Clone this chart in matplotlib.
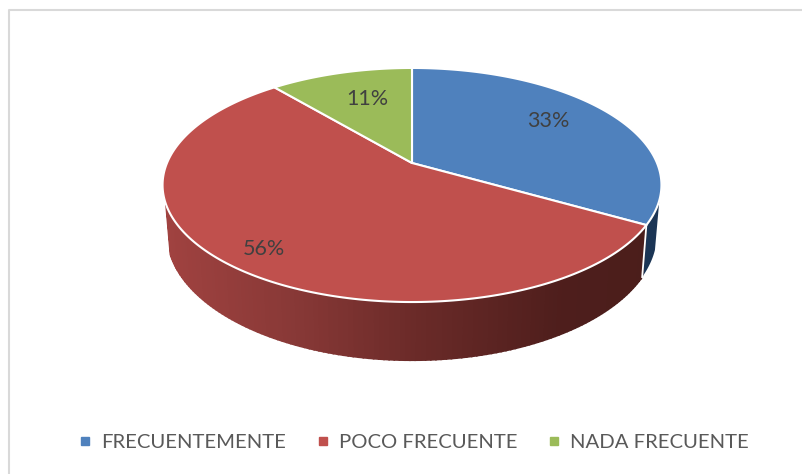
import numpy as np
import matplotlib
matplotlib.use('Agg')
import matplotlib.pyplot as plt
from matplotlib.lines import Line2D

# Datos del grafico
categories = ['FRECUENTEMENTE', 'POCO FRECUENTE', 'NADA FRECUENTE']
values = [33.3, 55.6, 11.1]
colors = ['#4F81BD', '#C0504D', '#9BBB59']

W, H = 803, 474
text_color = '#404040'
plt.rcParams['font.family'] = ['Lato', 'DejaVu Sans']


# Circulo del pastel en perspectiva: angulo en grados, 0 arriba y sentido horario
def project(t, top=True):
    t = np.radians(t)
    u, v = np.sin(t), np.cos(t)
    d = 1 + 0.188 * v
    if top:
        return 412 + 245 * u / d, 163 - 112.9 * v / d
    return 412 + 240.6 * u / d, 210 - 122 * v / d


def slice_poly(a, b):
    t = np.linspace(a, b, 200)
    x, y = project(t)
    return np.r_[412, x], np.r_[163, y]


fig = plt.figure(figsize=(W / 100, H / 100), dpi=100)
ax = fig.add_axes([0, 0, 1, 1])
ax.set_xlim(0, W)
ax.set_ylim(H, 0)
ax.axis('off')

# Marco: solo arriba e izquierda
ax.plot([9.5, 9.5, W], [H, 9.5, 9.5], color='#D9D9D9', lw=1.5)

edges = np.r_[0, np.cumsum(values)] / np.sum(values) * 360

# Pared lateral azul
t = np.linspace(108, edges[1], 40)
xt, yt = project(t)
xb, yb = project(t, top=False)
ax.fill(np.r_[xt, xb[::-1]], np.r_[yt, yb[::-1]], color='#1B3555', lw=0)

# Pared lateral roja con degradado
ts = np.linspace(edges[1], 250, 130)
grad_x = [170, 300, 410, 560, 650]
grad_r = [160, 135, 108, 78, 75]
grad_g = [66, 56, 43, 30, 30]
grad_b = [64, 54, 41, 28, 27]
for a, b in zip(ts[:-1], ts[1:]):
    pair = np.array([a, b])
    xt, yt = project(pair)
    xb, yb = project(pair, top=False)
    xm = xb.mean()
    c = [np.interp(xm, grad_x, g) / 255 for g in (grad_r, grad_g, grad_b)]
    ax.fill(np.r_[xt, xb[::-1]], np.r_[yt, yb[::-1]], fc=c, ec=c, lw=1.2)

# Linea blanca entre paredes
xt, yt = project(edges[1])
xb, yb = project(edges[1], top=False)
ax.plot([xt, xb], [yt, yb], color='white', lw=1.3)

# Cara superior
for a, b, col in zip(edges[:-1], edges[1:], colors):
    x, y = slice_poly(a, b)
    ax.fill(x, y, fc=col, ec='white', lw=1.5, joinstyle='round')

# Etiquetas
label_x = [548, 264, 367]
label_y = [121, 249, 99]
for v, lx, ly in zip(values, label_x, label_y):
    ax.text(lx, ly, f'{v:.0f}%', color=text_color, fontsize=15.5, ha='center', va='center')

handles = [Line2D([], [], ls='', marker='s', ms=5.5, color=c) for c in colors]
ax.legend(handles, categories, loc='center', bbox_to_anchor=(412.5 / W, 1 - 442 / H),
          ncol=3, frameon=False, fontsize=14.6, labelcolor='#595959',
          handlelength=0.9, handletextpad=0.35, columnspacing=1.35)

fig.savefig('out.png', dpi=100)
